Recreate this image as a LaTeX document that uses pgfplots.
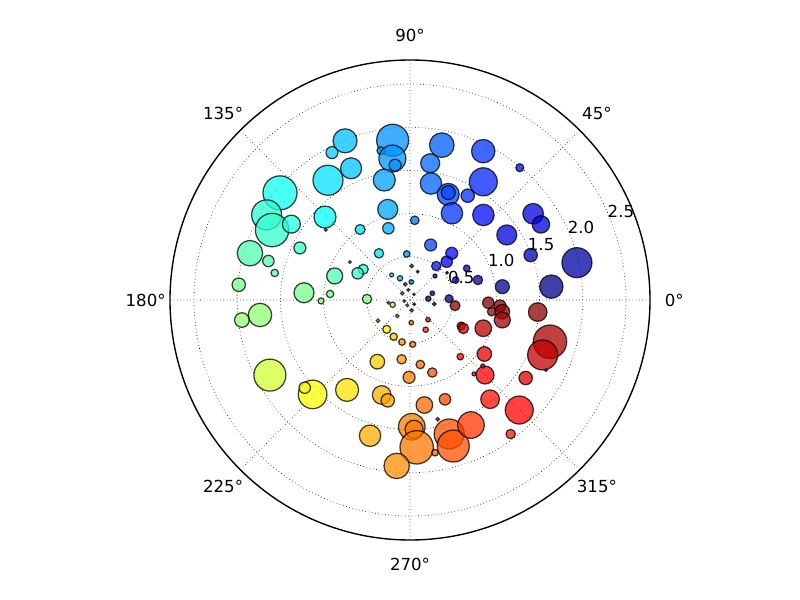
\documentclass[border=0pt]{standalone}
\usepackage{fontspec}
\setmainfont{DejaVu Sans}
\usepackage{pgfplots}
\pgfplotsset{compat=1.18}
\usepgfplotslibrary{polar}
\usepackage{pgfplotstable}
\pgfplotstableread{
t r s
112.2 1.99 12
117.9 1.93 6
114.1 1.67 10.5
124.4 1.68 15
140.5 1.95 17
149.3 1.93 15
153.1 1.79 16.7
147.4 1.63 9
135.7 1.375 11
140.2 1.27 1.5
163.7 1.93 12.7
154.7 1.41 6
96.2 1.86 16
101.0 1.76 4
97.1 1.65 13.5
96.3 1.57 6
102.1 1.42 11
78.4 1.83 12.3
81.6 1.60 9.5
79.8 1.37 10.7
70.1 1.30 11
70.4 1.32 7
61.05 1.38 6.7
64.2 1.115 10.7
63.8 1.92 11.7
58.2 1.61 14
49.2 1.30 10.7
103.8 1.08 10
86.6 0.924 4.3
106.8 0.867 5.7
125.3 1.00 5
69.4 0.68 6
48.2 0.725 6
123.6 0.649 4.7
50.3 1.99 4
35.0 1.74 10.3
30.0 1.75 8.7
33.9 1.35 10
12.6 1.98 15
20.4 1.49 6.7
94.1 0.534 3.3
147.7 0.822 1.3
146.7 0.647 5
153.0 0.68 5.7
46.2 0.614 5.7
52.3 0.497 4.7
87.1 0.394 1.7
74.8 0.34 1.3
126.2 0.359 2
114.7 0.277 2.7
85.9 0.209 2.3
106.7 0.19 1.7
43.8 0.401 2
36.4 0.532 1.3
29.2 0.752 3.3
23.6 0.577 3.3
16.4 0.82 4.7
99.6 0.118 1.3
139 0.118 1.7
54.9 0.08 1
16.7 0.27 2.3
4.1 0.212 2.7
1.9 0.452 4
350.7 0.285 1.7
352.8 0.525 5
178.7 0.498 4.7
195.2 0.208 2.7
187.1 0.253 1.3
190 0.067 1.3
243 0.069 1.3
315 0.07 1.3
279.4 0.121 1.7
231.6 0.236 1.7
212.9 0.441 1.7
273.3 0.263 2.3
312.4 0.309 2.3
297.9 0.389 2.7
333.0 0.663 4
332.0 0.699 5.3
231.5 0.433 4
246.0 0.465 3.7
259.2 0.495 3.3
273.5 0.514 3
242.1 0.808 7.3
262.0 0.693 4.7
279.1 0.756 4.3
287.1 0.878 4.7
311.6 0.877 3.3
269.3 0.895 6
164.6 1.70 5.7
168.7 1.597 3.7
162.3 0.915 8
174.9 1.99 6.7
176.1 1.23 10
175.7 0.928 3.7
180.6 1.03 3
185.7 1.745 11.7
186.8 1.96 7.3
208.2 1.84 16
224.1 1.57 14.3
219.8 1.586 5.7
235 1.27 11.5
253.4 1.147 9.3
257.5 1.19 6.7
277.8 1.227 8.3
289.4 1.219 5.7
283.1 1.418 1.7
270.8 1.467 13.3
271.8 1.497 9
253.6 1.638 10.7
272.6 1.707 16.7
265.4 1.927 12.7
286.3 1.616 15
286.5 1.763 16
296.0 1.61 13.3
279.3 1.791 3.3
315 1.228 9
310.9 1.132 2
317.8 1.137 2
326.0 1.615 6.7
308.9 1.476 9.3
314.8 1.795 14
306.9 1.94 4.7
332.8 1.77 1.5
8.2 1.08 7
5.4 1.643 11.7
358.0 0.907 5.7
356.2 1.044 6
351.9 0.955 4.3
352.8 1.077 7.3
347.8 1.093 8
354.6 1.485 9.3
338.9 0.909 8.3
343.4 1.691 16.7
337.5 1.662 15
324.0 1.063 7.3
}\pts
\begin{document}
\begin{tikzpicture}
\path[use as bounding box] (0,0) rectangle (8in,6in);
\begin{polaraxis}[
  at={(4.10in,3.00in)}, anchor=center,
  scale only axis, width=4.8in, height=4.8in,
  xmin=0, xmax=360, ymin=0, ymax=2.778,
  clip=false,
  xtick={0,45,...,315},
  xticklabels={,,,,,,,},
  ytick={0.5,1.0,1.5,2.0,2.5},
  yticklabels={,,,,},
  y axis line style={draw=none},
  major tick length=0pt,
  grid=major,
  major grid style={dotted, black, line width=0.5pt},
  axis line style={black, line width=1pt},
  colormap/jet,
  point meta min=0, point meta max=360,
]
\addplot[scatter, only marks, mark=*,
  scatter/use mapped color={draw=black, fill=mapped color},
  fill opacity=0.75, draw opacity=0.75, line width=0.9pt,
  visualization depends on={\thisrow{s} \as \ms},
  scatter/@pre marker code/.append style={/tikz/mark size=0.7227*\ms},
  point meta=\thisrow{t}]
  table[x=t, y=r] {\pts};
\foreach \v in {0.5,1.0,1.5,2.0,2.5}{
  \edef\tmp{\noexpand\node[anchor=base west, inner sep=0pt, xshift=-1.5pt, font=\noexpand\fontsize{12}{14}\noexpand\selectfont] at (axis cs:22.5,\v) {\v};}
  \tmp
}
\foreach \a in {0,45,...,315}{
  \edef\tmp{\noexpand\node[anchor=center, inner sep=0pt, font=\noexpand\fontsize{12}{14}\noexpand\selectfont] at (axis cs:\a,3.06) {\a°};}
  \tmp
}
\end{polaraxis}
\end{tikzpicture}
\end{document}
